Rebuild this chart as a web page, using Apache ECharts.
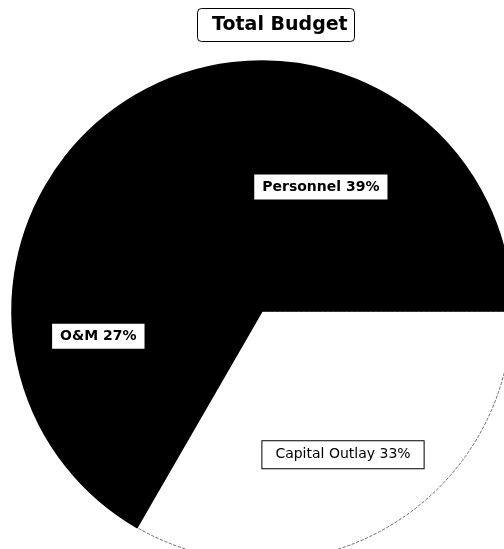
<!DOCTYPE html>
<html><head><meta charset="utf-8">
<script src="https://cdn.jsdelivr.net/npm/echarts@6/dist/echarts.min.js"></script>
<style>html,body{margin:0;padding:0;background:#fff}#c{width:504px;height:549px}</style>
</head><body><div id="c"></div>
<script>
const categories = ['Capital Outlay', 'O&M', 'Personnel'];
const values = [33, 27, 39];
const colors = ['#ffffff', '#000000', '#000000'];
const labelWeights = ['normal', 'bold', 'bold'];
const labelOffsets = [[17, 33], [-38, 1], [17, -3]];

const chart = echarts.init(document.getElementById('c'), null, {renderer: 'canvas'});
chart.setOption({
  animation: false,
  backgroundColor: '#fff',
  title: {
    text: 'Total Budget', left: 197, top: 8,
    padding: [8, 7, 7, 15],
    borderColor: '#000', borderWidth: 1, borderRadius: 4,
    textStyle: {fontFamily: 'DejaVu Sans', fontWeight: 'bold', fontSize: 19, color: '#000'}
  },
  series: [{
    type: 'pie',
    center: [262, 311],
    radius: [0, 250],
    startAngle: 0,
    clockwise: true,
    avoidLabelOverlap: false,
    data: categories.map((c, i) => ({
      name: c, value: values[i],
      itemStyle: i === 0
        ? {color: colors[i], borderColor: '#444', borderWidth: 0.8, borderType: 'dashed'}
        : {color: colors[i], borderColor: colors[i], borderWidth: 1.5},
      label: {
        offset: labelOffsets[i], fontWeight: labelWeights[i],
        padding: i === 0 ? [7, 13, 6, 13] : [6, 8, 5, 8]
      }
    })),
    label: {
      position: 'inside',
      formatter: p => p.name + ' ' + p.value + '%',
      color: '#000', fontFamily: 'DejaVu Sans', fontSize: 14,
      backgroundColor: '#fff', borderColor: '#000', borderWidth: 1
    },
    labelLine: {show: false},
    emphasis: {disabled: true}
  }]
});
</script></body></html>
